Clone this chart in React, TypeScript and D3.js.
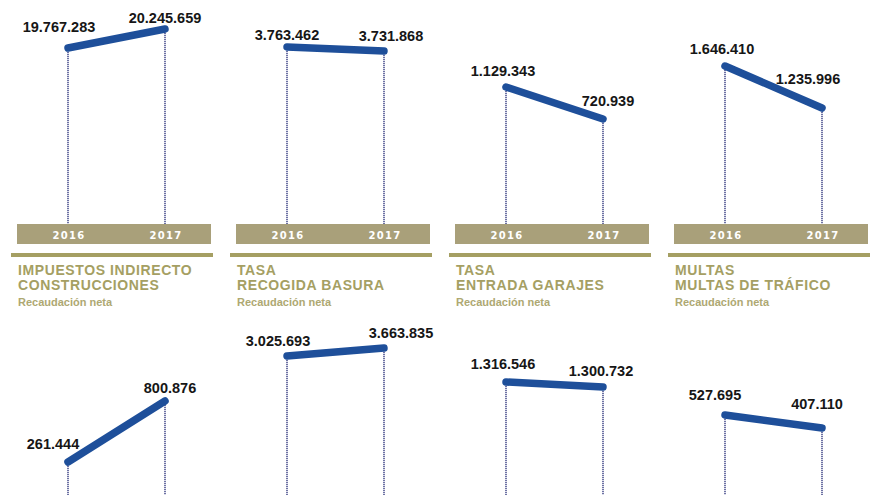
import React, { useRef, useEffect } from "react";
import * as d3 from "d3";

const years = ["2016", "2017"];

// titles of the panels in the lower row (upper row titles are cut off in the page)
const titles = [
  ["IMPUESTOS INDIRECTO", "CONSTRUCCIONES"],
  ["TASA", "RECOGIDA BASURA"],
  ["TASA", "ENTRADA GARAJES"],
  ["MULTAS", "MULTAS DE TRÁFICO"],
];
const subtitle = "Recaudación neta";

const topRowValues = [
  [19767283, 20245659],
  [3763462, 3731868],
  [1129343, 720939],
  [1646410, 1235996],
];
const bottomRowValues = [
  [261444, 800876],
  [3025693, 3663835],
  [1316546, 1300732],
  [527695, 407110],
];

// every small multiple has its own vertical extent
const topRowDomains = [
  [15336000, 20951000],
  [2362600, 4127600],
  [-619000, 2227000],
  [102000, 2282000],
];
const bottomRowDomains = [
  [-322000, 1650000],
  [-10688000, 7090000],
  [854600, 1560200],
  [-520000, 1548000],
];

// label nudges (dx, dy of the label centre from its point), left then right
const topRowNudges = [
  [[-9, -21], [0, -11]],
  [[0, -12], [7, -15]],
  [[-3, -16], [5, -18]],
  [[-3, -17], [-14, -29]],
];
const bottomRowNudges = [
  [[-15, -18], [5, -13]],
  [[-9, -15], [17, -15]],
  [[-3, -18], [-2, -16]],
  [[-10, -20], [-5, -24]],
];

const W = 880;
const H = 495;
const colX = [17, 236, 455, 674];
const panelW = 194;
const rowPitch = 304;
const chartH = 223;
const font = "'Liberation Sans', Arial, Helvetica, sans-serif";
const olive = "#a59f63";
const barColor = "#a9a07a";
const blue = "#1e4f9a";

const fmt = d3.formatLocale({
  decimal: ",",
  thousands: ".",
  grouping: [3],
  currency: ["", ""],
}).format(",d");

const App = () => {
  const svgRef = useRef(null);

  useEffect(() => {
    const svg = d3.select(svgRef.current);
    svg.selectAll("*").remove();

    const rows = [
      { values: topRowValues, domains: topRowDomains, nudges: topRowNudges, titles: null },
      { values: bottomRowValues, domains: bottomRowDomains, nudges: bottomRowNudges, titles: titles },
    ];

    rows.forEach((row, r) => {
      const headY = (r - 1) * rowPitch; // top of the header block
      const chartTop = headY + 305;
      const chartBottom = chartTop + chartH;

      colX.forEach((x0, c) => {
        const g = svg.append("g");

        // header: separator, title, subtitle
        g.append("rect")
          .attr("x", x0 - 6)
          .attr("y", headY + 253)
          .attr("width", panelW + 8)
          .attr("height", 4)
          .attr("fill", olive);

        if (row.titles) {
          row.titles[c].forEach((t, k) => {
            g.append("text")
              .attr("x", x0 + 1)
              .attr("y", headY + 275 + k * 15)
              .attr("font-family", font)
              .attr("font-weight", "bold")
              .attr("font-size", 14)
              .attr("letter-spacing", 0.6)
              .attr("fill", olive)
              .text(t);
          });
          g.append("text")
            .attr("x", x0 + 1)
            .attr("y", headY + 306)
            .attr("font-family", font)
            .attr("font-weight", "bold")
            .attr("font-size", 11)
            .attr("fill", "#aea872")
            .text(subtitle);
        }

        // chart
        const xScale = d3
          .scalePoint()
          .domain(years)
          .range([x0 + 51, x0 + 148]);
        const yScale = d3
          .scaleLinear()
          .domain(row.domains[c])
          .range([chartBottom, chartTop]);

        const pts = years.map((yr, i) => ({
          year: yr,
          value: row.values[c][i],
          x: xScale(yr),
          y: yScale(row.values[c][i]),
          nudge: row.nudges[c][i],
        }));

        // year bar
        g.append("rect")
          .attr("x", x0)
          .attr("y", chartBottom)
          .attr("width", panelW)
          .attr("height", 20)
          .attr("fill", barColor);
        if (chartBottom < H) {
          g.selectAll(".yr")
            .data(pts)
            .enter()
            .append("text")
            .attr("x", (d) => d.x + 1)
            .attr("y", chartBottom + 14.5)
            .attr("text-anchor", "middle")
            .attr("font-family", "'DejaVu Sans', Verdana, sans-serif")
            .attr("font-weight", "bold")
            .attr("font-size", 10)
            .attr("letter-spacing", 1.3)
            .attr("fill", "#ffffff")
            .text((d) => d.year);
        }

        // dotted drop lines
        g.selectAll(".drop")
          .data(pts)
          .enter()
          .append("line")
          .attr("x1", (d) => d.x)
          .attr("x2", (d) => d.x)
          .attr("y1", (d) => d.y)
          .attr("y2", chartBottom)
          .attr("stroke", "#5f649b")
          .attr("stroke-width", 1.8)
          .attr("stroke-dasharray", "1.2,0.8");

        // trend line
        const line = d3
          .line()
          .x((d) => d.x)
          .y((d) => d.y);
        g.append("path")
          .attr("d", line(pts))
          .attr("fill", "none")
          .attr("stroke", blue)
          .attr("stroke-width", 7.5)
          .attr("stroke-linecap", "round");

        // value labels
        g.selectAll(".val")
          .data(pts)
          .enter()
          .append("text")
          .attr("x", (d) => d.x + d.nudge[0])
          .attr("y", (d) => d.y + d.nudge[1] + 5)
          .attr("text-anchor", "middle")
          .attr("font-family", font)
          .attr("font-weight", "bold")
          .attr("font-size", 14.5)
          .attr("fill", "#161616")
          .text((d) => fmt(d.value));
      });
    });
  });

  return (
    <div style={{ position: "absolute", left: 0, top: 0 }}>
      <svg
        ref={svgRef}
        width={W}
        height={H}
        style={{ display: "block", background: "#ffffff" }}
      ></svg>
    </div>
  );
};

export default App;
